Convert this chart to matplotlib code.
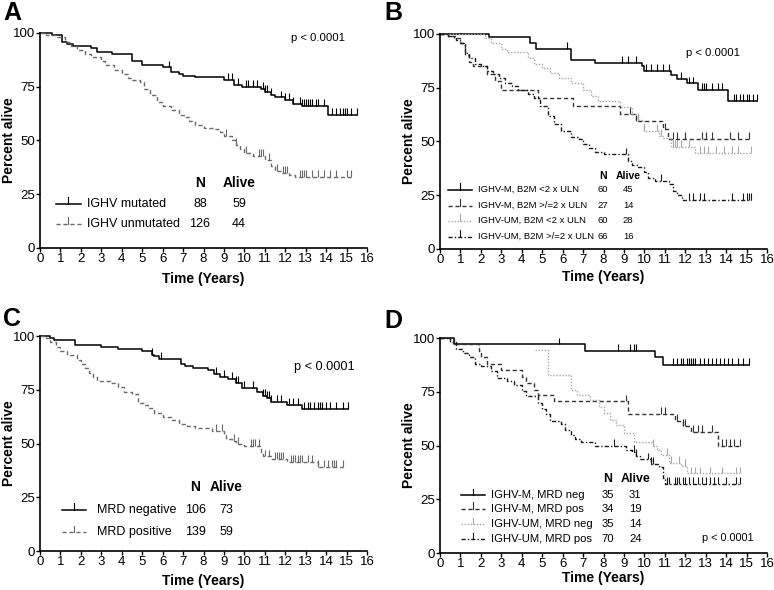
import numpy as np
import matplotlib
matplotlib.use("Agg")
import matplotlib.pyplot as plt

plt.rcParams['font.family'] = ['Liberation Sans', 'DejaVu Sans']

# ---- panel A : IGHV ----
a_mut_t = [0, 0.6, 1.1, 1.3, 1.6, 2.5, 2.8, 3.5, 4.5, 5.0, 6.0, 6.4, 6.8, 7.0, 7.6, 9.0, 9.5, 9.9, 10.8, 11.0, 11.3, 11.5, 12.0, 12.4, 12.8, 14.1]
a_mut_s = [100, 99, 96, 95, 94, 93, 91, 90, 87, 85, 84, 82, 81, 80, 79.5, 78, 76, 75, 74, 72.5, 71, 70, 69, 67, 66, 62]
a_mut_c = [6.3, 9.2, 9.4, 9.7, 10.1, 10.2, 10.4, 10.6, 10.9, 11.0, 11.1, 11.3, 11.8, 12.0, 12.2, 12.4, 12.7, 12.8, 12.9,
           13.0, 13.1, 13.2, 13.3, 13.5, 13.6, 13.9, 14.3, 14.5, 14.7, 14.8, 14.9, 15.0, 15.2, 15.5]
a_unm_t = [0, 0.3, 0.8, 1.2, 1.5, 1.8, 2.2, 2.5, 3.0, 3.2, 3.6, 4.0, 4.3, 4.5, 4.9, 5.1, 5.4, 5.7, 6.0, 6.4, 6.8, 7.1,
           7.3, 7.6, 8.0, 8.5, 8.8, 9.0, 9.4, 9.6, 9.8, 10.0, 10.4, 11.0, 11.3, 11.5, 11.8, 12.2, 12.5]
a_unm_s = [100, 99, 98, 96, 94, 92, 90, 89, 87, 85, 83, 81, 79, 78, 77, 74, 71, 68, 66, 64, 62, 61,
           59, 57, 56, 55.5, 54, 52, 50, 48, 46, 44, 43, 41, 38, 36, 35, 34, 33]
a_unm_c = [9.1, 9.6, 10.1, 10.7, 10.8, 10.9, 11.2, 11.6, 11.9, 12.0, 12.1, 12.7, 12.8, 12.9, 13.0, 13.3, 13.6, 13.9,
           14.2, 14.5, 15.0, 15.2]
a_labels = ["IGHV mutated", "IGHV unmutated"]
a_n = [88, 126]
a_alive = [59, 44]

# ---- panel B : IGHV x B2M ----
b1_t = [0, 2.4, 4.4, 4.7, 6.4, 7.6, 9.9, 10.0, 11.3, 11.6, 12.1, 12.6, 14.1]
b1_s = [100, 98.5, 96, 93, 88, 86.5, 85, 83, 81, 79, 77, 74, 69]
b1_c = [6.2, 8.9, 9.2, 9.6, 10.1, 10.3, 10.6, 10.9, 11.2, 11.8, 12.2, 12.4, 12.8, 12.9, 13.0, 13.3, 13.6, 13.8,
        14.4, 14.5, 14.7, 14.8, 15.0, 15.1, 15.3, 15.5]
b2_t = [0, 0.4, 0.7, 1.0, 1.2, 1.4, 1.6, 2.3, 2.7, 3.0, 4.8, 6.5, 8.8, 9.6, 10.9, 11.15]
b2_s = [100, 99, 98, 96, 90, 87, 85, 81.5, 78, 74, 70.4, 66.7, 63, 59.3, 55.6, 51]
b2_c = [9.3, 9.6, 11.0, 11.4, 11.6, 12.0, 12.8, 13.0, 13.3, 14.2, 14.6, 15.1]
b3_t = [0, 2.2, 2.5, 3.0, 3.3, 4.3, 4.6, 5.0, 5.4, 5.8, 6.4, 7.0, 7.4, 7.75, 8.8, 9.4, 9.7, 10.0, 10.7, 10.9, 11.3, 12.5]
b3_s = [100, 98, 96, 93, 91.5, 89, 86, 84, 82, 79.5, 77, 74, 71, 69, 66, 63, 60, 55, 52.5, 51.5, 47.5, 44.5]
b3_c = [9.7, 10.0, 10.6, 10.8, 11.4, 11.5, 11.6, 11.8, 12.2, 12.7, 12.9, 13.1, 13.5, 13.9, 14.3, 14.6, 15.2]
b4_t = [0, 0.4, 0.8, 1.0, 1.2, 1.4, 1.7, 2.0, 2.3, 2.6, 2.9, 3.2, 3.5, 3.8, 4.3, 4.6, 4.9, 5.3, 5.6, 5.9, 6.4, 6.8,
        7.0, 7.3, 7.6, 8.0, 9.2, 9.4, 9.7, 10.0, 10.2, 10.5, 11.2, 11.4, 11.6, 11.85]
b4_s = [100, 99, 97, 96, 91, 89, 86, 85, 83, 81.5, 79.5, 77, 76, 74, 72, 70, 66.7, 62, 58, 55, 52, 51,
        49, 47, 45, 44, 41, 39, 38, 36, 33, 31.5, 30, 27, 25, 23]
b4_c = [9.1, 10.8, 12.2, 12.4, 12.7, 12.9, 14.3, 14.8, 15.0, 15.1, 15.2]
b_labels = ["IGHV-M, B2M <2 x ULN", "IGHV-M, B2M >/=2 x ULN", "IGHV-UM, B2M <2 x ULN", "IGHV-UM, B2M >/=2 x ULN"]
b_n = [60, 27, 60, 66]
b_alive = [45, 14, 28, 16]

# ---- panel C : MRD ----
c_neg_t = [0, 0.5, 0.7, 1.7, 3.0, 3.8, 5.0, 5.5, 5.6, 5.8, 6.9, 7.1, 7.5, 8.2, 8.5, 8.8, 9.2, 9.6, 9.9, 10.6, 10.9,
           11.1, 11.3, 12.1, 12.8]
c_neg_s = [100, 99, 98, 96, 95, 94, 93, 91, 90.5, 89.5, 87, 86, 85, 84, 82.5, 81, 80, 78, 76, 74, 72,
           71, 69.5, 68, 66]
c_neg_c = [5.5, 5.9, 8.6, 9.0, 9.4, 9.6, 9.7, 10.0, 10.4, 10.9, 11.0, 11.1, 11.2, 11.3, 11.6, 11.8, 12.2, 12.4, 12.6,
           12.9, 13.1, 13.2, 13.4, 13.6, 13.7, 13.8, 14.0, 14.2, 14.5, 14.8, 15.05]
c_pos_t = [0, 0.3, 0.5, 0.8, 1.0, 1.3, 1.8, 2.0, 2.2, 2.4, 2.6, 2.8, 3.4, 3.8, 4.1, 4.5, 4.8, 5.1, 5.3, 5.6, 6.0,
           6.4, 6.8, 7.2, 7.6, 8.4, 9.0, 9.1, 9.4, 9.6, 10.0, 10.8, 10.9, 11.3, 12.1, 13.6]
c_pos_s = [100, 99, 97, 95, 93, 91, 89, 87, 85, 83, 81, 79, 78, 76.5, 74, 73, 69, 68, 66.5, 64, 62.5,
           61, 59, 58, 57, 56, 54, 52, 51, 50, 49, 46, 44, 43, 41.5, 39]
c_pos_c = [8.6, 8.9, 9.5, 9.7, 10.3, 10.4, 10.5, 10.7, 11.0, 11.2, 11.5, 11.6, 11.7, 11.8, 11.9, 12.3, 12.4, 12.5,
           12.6, 12.7, 12.8, 13.1, 13.3, 13.6, 13.9, 14.1, 14.3, 14.4, 14.5, 14.8]
c_labels = ["MRD negative", "MRD positive"]
c_n = [106, 139]
c_alive = [73, 59]

# ---- panel D : IGHV x MRD ----
d1_t = [0, 0.7, 7.1, 10.5, 10.9]
d1_s = [100, 97, 94, 91, 87.5]
d1_c = [5.8, 8.7, 9.3, 9.5, 9.6, 11.4, 11.6, 11.8, 11.9, 12.1, 12.2, 12.3, 12.4, 12.5, 12.7, 12.9, 13.1, 13.3,
        13.5, 13.7, 13.9, 14.1, 14.3, 14.6, 14.8, 15.1]
d2_t = [0, 0.7, 1.9, 2.0, 2.3, 3.0, 4.0, 4.2, 4.6, 4.8, 5.6, 9.2, 11.5, 11.9, 12.3, 13.6]
d2_s = [100, 97, 94, 91, 88, 85, 82, 79, 76, 73.5, 70.5, 64.5, 61.5, 59, 56.5, 50]
d2_c = [9.1, 10.8, 11.0, 11.6, 11.9, 12.0, 12.4, 12.6, 12.8, 13.3, 13.8, 14.0, 14.2, 14.4, 14.7]
d3_t = [4.65, 5.3, 6.4, 6.7, 7.35, 7.8, 8.0, 8.3, 8.6, 9.0, 9.5, 10.4, 10.6, 10.8, 11.2, 11.8, 12.1]
d3_s = [94.3, 82.6, 76, 73.3, 71, 68, 65, 62, 59.5, 56, 51.5, 50, 48, 45.5, 42, 40.5, 37]
d3_c = [10.4, 11.1, 11.3, 11.7, 12.0, 12.3, 12.5, 12.7, 13.2, 13.8, 14.5, 14.7]
d4_t = [0, 0.5, 0.8, 1.1, 1.4, 1.7, 2.0, 2.5, 2.8, 3.3, 3.6, 4.0, 4.2, 4.8, 5.0, 5.2, 5.4, 5.9, 6.1, 6.4, 6.6, 6.9,
        7.6, 9.1, 9.4, 9.6, 9.8, 10.3, 10.7, 10.9, 11.0]
d4_s = [100, 98, 95, 93, 91, 88, 87, 84.5, 81.5, 80, 78, 75.5, 73, 70, 67, 64.5, 61.5, 60, 57, 55, 53, 51.5,
        50, 48, 47, 45, 43.5, 41.5, 40, 35, 32]
d4_c = [8.5, 9.5, 9.6, 10.2, 10.3, 10.4, 11.1, 11.2, 11.5, 11.6, 11.7, 11.9, 12.0, 12.2, 12.4, 12.6, 12.8, 13.0,
        13.2, 13.4, 13.6, 14.0, 14.5, 14.7]
d_labels = ["IGHV-M, MRD neg", "IGHV-M, MRD pos", "IGHV-UM, MRD neg", "IGHV-UM, MRD pos"]
d_n = [35, 34, 35, 70]
d_alive = [31, 19, 14, 24]

solid = dict(color="black", ls="-", lw=1.1)
dashed = dict(color="#333333", ls=(0, (3, 2)), lw=1.0)
dashed_gray = dict(color="#6a6a6a", ls=(0, (3, 2)), lw=1.0)
dotted = dict(color="#a8a8a8", ls=(0, (1, 1.2)), lw=1.0)
dashdot = dict(color="#1a1a1a", ls=(0, (3, 1.5, 1, 1.5)), lw=1.0)


def km(ax, t, s, c, style):
    t = np.array(t, float)
    s = np.array(s, float)
    end = max(c)
    ax.step(np.append(t, end), np.append(s, s[-1]), where="post", clip_on=False, **style)
    cs = s[np.searchsorted(t, c, side="right") - 1]
    ax.vlines(c, cs, cs + 3.2, colors=style["color"], lw=0.8, clip_on=False)


def setup(ax, xlab_y):
    ax.set_xlim(0, 16)
    ax.set_ylim(0, 100)
    ax.set_xticks(range(17))
    ax.set_yticks([0, 25, 50, 75, 100])
    for sp in ["top", "right"]:
        ax.spines[sp].set_visible(False)
    for sp in ["left", "bottom"]:
        ax.spines[sp].set_linewidth(1.2)
    ax.tick_params(direction="out", length=3, width=1.0, labelsize=9.5, pad=0.5)
    ax.set_xlabel("Time (Years)", fontsize=10, fontweight="bold")
    ax.xaxis.set_label_coords(0.5, xlab_y)
    ax.set_ylabel("Percent alive", fontsize=10, fontweight="bold")
    ax.yaxis.set_label_coords(-0.072, 0.5)


def legend(ax, styles, labels, ns, alive, ys, hy, x0, x1, xl, xn, xa, fs):
    ax.text(xn, hy, "N", ha="center", va="center", fontsize=fs * 1.1, fontweight="bold")
    ax.text(xa, hy, "Alive", ha="center", va="center", fontsize=fs * 1.1, fontweight="bold")
    for st, lab, n, a, y in zip(styles, labels, ns, alive, ys):
        ax.plot([x0, x1], [y, y], **st)
        xm = (x0 + x1) / 2
        ax.plot([xm, xm], [y, y + 3], color=st["color"], lw=0.8)
        ax.text(xl, y, lab, ha="left", va="center", fontsize=fs)
        ax.text(xn, y, str(n), ha="center", va="center", fontsize=fs)
        ax.text(xa, y, str(a), ha="center", va="center", fontsize=fs)


fig = plt.figure(figsize=(7.74, 5.90), dpi=100)
axA = fig.add_axes([0.0517, 0.5797, 0.4225, 0.3644])
axB = fig.add_axes([0.5685, 0.578, 0.4225, 0.3644])
axC = fig.add_axes([0.0517, 0.0661, 0.4225, 0.3644])
axD = fig.add_axes([0.5685, 0.0627, 0.4225, 0.3644])

# A
setup(axA, -0.112)
km(axA, a_mut_t, a_mut_s, a_mut_c, solid)
km(axA, a_unm_t, a_unm_s, a_unm_c, dashed_gray)
legend(axA, [solid, dashed_gray], a_labels, a_n, a_alive, [20.5, 11.2], 30.2, 0.78, 2.0, 2.3, 7.83, 9.74, 9)
axA.text(13.6, 97.7, "p < 0.0001", ha="center", va="center", fontsize=8.2)

# B
setup(axB, -0.097)
km(axB, b1_t, b1_s, b1_c, solid)
km(axB, b2_t, b2_s, b2_c, dashed)
km(axB, b3_t, b3_s, b3_c, dotted)
km(axB, b4_t, b4_s, b4_c, dashdot)
legend(axB, [solid, dashed, dotted, dashdot], b_labels, b_n, b_alive, [27.6, 20.1, 13.2, 5.7], 34.1,
       0.39, 1.57, 1.86, 7.98, 9.2, 6.8)
axB.text(13.37, 91.3, "p < 0.0001", ha="center", va="center", fontsize=8.2)

# C
setup(axC, -0.107)
km(axC, c_neg_t, c_neg_s, c_neg_c, solid)
km(axC, c_pos_t, c_pos_s, c_pos_c, dashed_gray)
legend(axC, [solid, dashed_gray], c_labels, c_n, c_alive, [19.1, 8.8], 29.8, 1.08, 2.25, 2.8, 7.6, 9.1, 9)
axC.text(13.9, 85.6, "p < 0.0001", ha="center", va="center", fontsize=9.2)

# D
setup(axD, -0.084)
km(axD, d1_t, d1_s, d1_c, solid)
km(axD, d2_t, d2_s, d2_c, dashed)
km(axD, d3_t, d3_s, d3_c, dotted)
km(axD, d4_t, d4_s, d4_c, dashdot)
legend(axD, [solid, dashed, dotted, dashdot], d_labels, d_n, d_alive, [27, 20.5, 13.5, 6.5], 34.4,
       1.03, 2.2, 2.5, 8.2, 9.55, 8.1)
axD.text(14.1, 7, "p < 0.0001", ha="center", va="center", fontsize=7.8)

for lt, x, y in [("A", 0.004, 0.998), ("B", 0.497, 0.998), ("C", 0.004, 0.48), ("D", 0.497, 0.477)]:
    fig.text(x, y, lt, ha="left", va="top", fontsize=18, fontweight="bold")

fig.savefig("out.png", dpi=100)
